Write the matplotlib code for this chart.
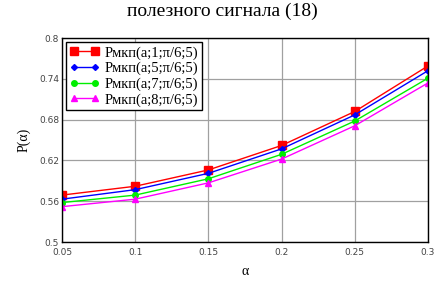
import matplotlib.pyplot as plt

alpha = [0.05, 0.1, 0.15, 0.2, 0.25, 0.3]
p_1 = [0.569, 0.582, 0.606, 0.642, 0.692, 0.759]
p_5 = [0.563, 0.577, 0.601, 0.637, 0.687, 0.752]
p_7 = [0.558, 0.569, 0.593, 0.629, 0.678, 0.741]
p_8 = [0.552, 0.563, 0.587, 0.622, 0.671, 0.734]
labels = ["Pмкп(a;1;π/6;5)", "Pмкп(a;5;π/6;5)", "Pмкп(a;7;π/6;5)", "Pмкп(a;8;π/6;5)"]
x_ticks = [0.05, 0.1, 0.15, 0.2, 0.25, 0.3]
y_ticks = [0.5, 0.56, 0.62, 0.68, 0.74, 0.8]

serif = ['Liberation Serif', 'DejaVu Serif']

fig = plt.figure(figsize=(4.44, 2.86), dpi=100)
ax = fig.add_axes([0.1396, 0.1538, 0.8244, 0.7132])

ax.plot(alpha, p_1, color='#ff0000', marker='s', markersize=6, lw=1, label=labels[0])
ax.plot(alpha, p_5, color='#0000ff', marker='D', markersize=3, lw=1, label=labels[1])
ax.plot(alpha, p_7, color='#00ee00', marker='o', markersize=4, lw=1, label=labels[2])
ax.plot(alpha, p_8, color='#ff00ff', marker='^', markersize=4, lw=1, label=labels[3])

ax.set_xlim(0.05, 0.3)
ax.set_ylim(0.5, 0.8)
ax.set_xticks(x_ticks)
ax.set_xticklabels(['0.05', '0.1', '0.15', '0.2', '0.25', '0.3'])
ax.set_yticks(y_ticks)
ax.set_yticklabels(['0.5', '0.56', '0.62', '0.68', '0.74', '0.8'])
ax.tick_params(labelsize=6.5, labelcolor='#444444', length=0)
ax.tick_params(axis='x', pad=4)
ax.tick_params(axis='y', pad=2)
ax.grid(True, color='#a0a0a0', lw=0.9)
for s in ax.spines.values():
    s.set_color('black')
    s.set_linewidth(1)

ax.set_xlabel('α', family=serif, fontsize=10, labelpad=6)
ax.set_ylabel('P(α)', family=serif, fontsize=10, labelpad=6)

leg = ax.legend(loc='upper left', prop={'family': serif, 'size': 10.5},
                fancybox=False, framealpha=1, edgecolor='black',
                borderpad=0.25, labelspacing=0.15, handlelength=2.0,
                handletextpad=0.4, borderaxespad=0.3, numpoints=2)
leg.get_frame().set_linewidth(1)

fig.text(0.5, 0.99, 'полезного сигнала (18)', family=serif, fontsize=14,
         ha='center', va='top')

fig.savefig('out.png', dpi=100)
